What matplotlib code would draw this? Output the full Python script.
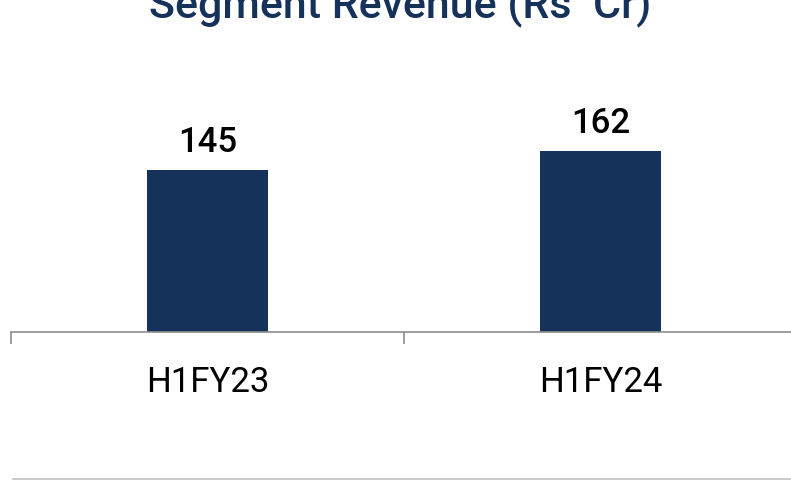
import matplotlib
matplotlib.use("Agg")
import matplotlib.pyplot as plt
from matplotlib.lines import Line2D

periods = ["H1FY23", "H1FY24"]
revenue = [145, 162]

navy = "#15325a"
axis_grey = "#8c8c8c"

plt.rcParams["font.family"] = ["Roboto", "DejaVu Sans"]

fig = plt.figure(figsize=(7.91, 4.81), dpi=100)
# axes runs a little past the right edge, like the source slide crop
ax = fig.add_axes([11 / 791, 148 / 481, 786 / 791, 223.4 / 481])

x = range(len(periods))
bars = ax.bar(x, revenue, width=0.308, color=navy, zorder=2)

for rect, val in zip(bars, revenue):
    ax.annotate(f"{val}", (rect.get_x() + rect.get_width() / 2, rect.get_height()),
                xytext=(0, 14), textcoords="offset points",
                ha="center", va="baseline", fontsize=25, fontweight="medium",
                color="black")

ax.set_xlim(-0.5, 1.5)
ax.set_ylim(0, 200)

ax.set_xticks(list(x))
ax.set_xticklabels(periods, fontsize=25)
ax.tick_params(axis="x", which="major", length=0, pad=24)
ax.set_xticks([-0.5, 0.5, 1.5], minor=True)
ax.tick_params(axis="x", which="minor", length=8.6, width=1.2, color=axis_grey)
ax.set_yticks([])

for side in ["top", "right", "left"]:
    ax.spines[side].set_visible(False)
ax.spines["bottom"].set_color(axis_grey)
ax.spines["bottom"].set_linewidth(1.2)

fig.text(400 / 791, 1 - 17 / 481, "Segment Revenue (Rs  Cr)", ha="center", va="baseline",
         fontsize=31, fontweight="medium", color=navy)

# thin rule along the bottom of the panel
fig.add_artist(Line2D([13 / 791, 1.0], [1.5 / 481, 1.5 / 481],
                      transform=fig.transFigure, color="#c0c0c0", linewidth=1.2))

fig.savefig("out.png", dpi=100)
